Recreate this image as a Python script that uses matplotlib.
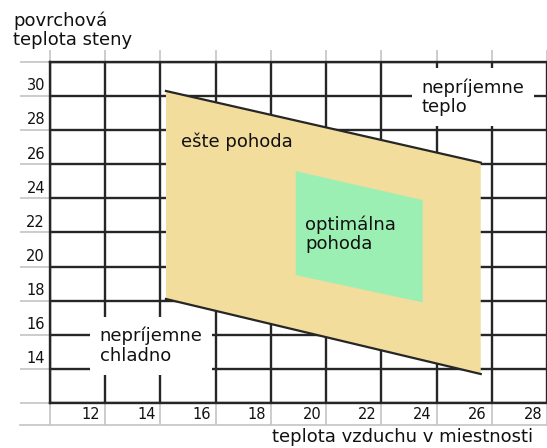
import matplotlib
matplotlib.use("Agg")
import matplotlib.pyplot as plt
from matplotlib.patches import Polygon

# air temperature (x) / wall surface temperature (y)
comfort_x = [14.2, 25.6, 25.6, 14.2]
comfort_y = [30.3, 26.1, 13.7, 18.1]
optimum_x = [18.9, 23.5, 23.5, 18.9]
optimum_y = [25.6, 23.9, 17.9, 19.5]

x_ticks = [10, 12, 14, 16, 18, 20, 22, 24, 26, 28]
x_labels = [12, 14, 16, 18, 20, 22, 24, 26, 28]
y_ticks = [12, 14, 16, 18, 20, 22, 24, 26, 28, 30, 32]
y_labels = [14, 16, 18, 20, 22, 24, 26, 28, 30]

beige = '#F2DD9C'
green = '#9CEFB2'
dark = '#262626'
light = '#c4c4c4'
txt = '#111111'
fs = 13

fig = plt.figure(figsize=(5.47, 4.48), dpi=100)
ax = fig.add_axes([50 / 547, 45 / 448, 497 / 547, 341 / 448])
ax.set_xlim(10, 27.9)
ax.set_ylim(12, 32)
ax.set_xticks(x_ticks)
ax.set_yticks(y_ticks)
ax.tick_params(labelleft=False, labelbottom=False, color=light, width=1.2)
ax.tick_params(axis='y', length=21.6)
ax.tick_params(axis='x', length=15.8)
ax.grid(True, color=dark, lw=1.7)
ax.set_axisbelow(True)
for side in ['left', 'bottom', 'top']:
    ax.spines[side].set_color(dark)
    ax.spines[side].set_linewidth(1.7)
ax.spines['right'].set_visible(False)

# light ticks above the frame and baseline under the x labels
ax.vlines(x_ticks, 1.0, 1.035, transform=ax.get_xaxis_transform(),
          color=light, lw=1.2, clip_on=False)
ax.plot([-0.06, 1], [-0.065, -0.065], transform=ax.transAxes,
        color=light, lw=1.2, clip_on=False)

# tick labels
for v in y_labels:
    ax.text(-0.01, v + 0.6, str(v), transform=ax.get_yaxis_transform(),
            ha='right', va='center', fontsize=10.5, color=txt)
for v in x_labels:
    ax.text(v - 0.18, -0.035, str(v), transform=ax.get_xaxis_transform(),
            ha='right', va='center', fontsize=10.5, color=txt)

# comfort zones
ax.add_patch(Polygon(list(zip(comfort_x, comfort_y)), closed=True,
                     facecolor=beige, edgecolor='none', zorder=3))
ax.plot(comfort_x[:2], comfort_y[:2], color=dark, lw=1.6, zorder=4)
ax.plot(comfort_x[2:], comfort_y[2:], color=dark, lw=1.6, zorder=4)
ax.add_patch(Polygon(list(zip(optimum_x, optimum_y)), closed=True,
                     facecolor=green, edgecolor='none', zorder=5))

ax.text(14.75, 27.3, 'ešte pohoda', fontsize=fs, ha='left', va='center',
        color=txt, zorder=6)
ax.text(19.25, 21.9, 'optimálna\npohoda', fontsize=fs, ha='left',
        va='center', color=txt, linespacing=1.1, zorder=6)
ax.text(23.45, 29.95, 'nepríjemne\nteplo', fontsize=fs, ha='left',
        va='center', color=txt, linespacing=1.1, zorder=6,
        bbox=dict(facecolor='white', edgecolor='none', pad=7))
ax.text(11.8, 15.35, 'nepríjemne\nchladno', fontsize=fs, ha='left',
        va='center', color=txt, linespacing=1.1, zorder=6,
        bbox=dict(facecolor='white', edgecolor='none', pad=7))

fig.text(13 / 547, 1 - 12 / 448, 'povrchová\nteplota steny', fontsize=fs,
         ha='left', va='top', color=txt, linespacing=1.05)
fig.text(272 / 547, 1 - 437 / 448, 'teplota vzduchu v miestnosti',
         fontsize=fs, ha='left', va='center', color=txt)

fig.savefig('out.png', dpi=100)
plt.close(fig)
